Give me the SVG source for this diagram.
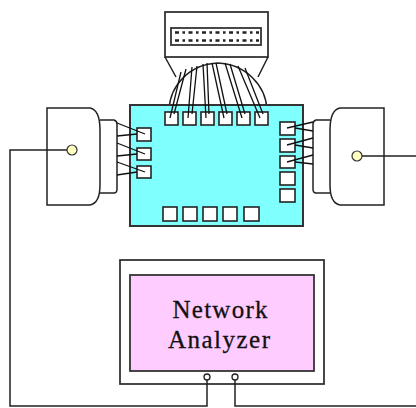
<svg xmlns="http://www.w3.org/2000/svg" width="416" height="408" viewBox="0 0 416 408">
  <style>
    .ln { fill: none; stroke: #222; stroke-width: 1.5; }
    .wire { fill: none; stroke: #111; stroke-width: 1.3; }
    .pin { fill: #fff; stroke: #222; stroke-width: 1.6; }
    .box { fill: #fff; stroke: #333; stroke-width: 1.8; }
    .label { font-family: "Liberation Serif", "Times New Roman", serif; font-size: 25px; fill: #111; stroke: #111; stroke-width: 0.3; text-anchor: middle; }
  </style>

  <!-- ribbon connector at the top -->
  <g id="ribbon-connector">
    <rect class="box" x="165" y="12" width="103" height="45"/>
    <rect class="box" x="171" y="28" width="90" height="17" stroke-width="1.4"/>
    <line x1="175" y1="32.5" x2="259" y2="32.5" stroke="#222" stroke-width="2.5" stroke-dasharray="4 3.5 2.5 3.5"/>
    <line x1="175" y1="40.5" x2="259" y2="40.5" stroke="#222" stroke-width="2.5" stroke-dasharray="4 3.5 2.5 3.5"/>
    <path class="ln" d="M165,57 L176,77 M268,57 L258,77"/>
    <path class="ln" d="M169,110 C170,85 190,64 218,63 C245,64 266,85 267,110" stroke-width="1.3"/>
  </g>

  <!-- test board -->
  <g id="board">
    <rect x="130" y="105" width="173" height="121" fill="#80ffff" stroke="#333" stroke-width="2"/>
    <!-- top pins -->
    <rect class="pin" x="165" y="112" width="13" height="13"/>
    <rect class="pin" x="183" y="112" width="13" height="13"/>
    <rect class="pin" x="201" y="112" width="13" height="13"/>
    <rect class="pin" x="219" y="112" width="13" height="13"/>
    <rect class="pin" x="237" y="112" width="13" height="13"/>
    <rect class="pin" x="255" y="112" width="13" height="13"/>
    <!-- left pins -->
    <rect class="pin" x="137" y="128" width="14" height="13"/>
    <rect class="pin" x="137" y="148" width="14" height="12"/>
    <rect class="pin" x="137" y="166" width="14" height="12"/>
    <!-- right pins -->
    <rect class="pin" x="280" y="122" width="15" height="13"/>
    <rect class="pin" x="280" y="139" width="15" height="13"/>
    <rect class="pin" x="280" y="156" width="15" height="12"/>
    <rect class="pin" x="280" y="172" width="15" height="13"/>
    <rect class="pin" x="280" y="189" width="15" height="13"/>
    <!-- bottom pins -->
    <rect class="pin" x="163" y="207" width="14" height="14"/>
    <rect class="pin" x="183" y="207" width="14" height="14"/>
    <rect class="pin" x="203" y="207" width="14" height="14"/>
    <rect class="pin" x="223" y="207" width="14" height="14"/>
    <rect class="pin" x="244" y="207" width="15" height="14"/>
  </g>

  <!-- left probe head -->
  <g id="left-probe">
    <path class="ln" d="M47,108 L90,108 Q100,110 100,130 L100,185 Q100,203 90,205 L47,205 Z" fill="#fff"/>
    <path class="ln" d="M100,120 L114,120 Q117,121 117,124 L117,189 Q117,193 114,193 L100,193"/>
    <circle cx="72" cy="150" r="5" fill="#ffffc0" stroke="#333" stroke-width="1.2"/>
  </g>

  <!-- right probe head -->
  <g id="right-probe">
    <path class="ln" d="M384,108 L340,108 Q330,110 330,130 L330,185 Q330,203 340,205 L384,205 Z" fill="#fff"/>
    <path class="ln" d="M330,120 L316,120 Q313,121 313,124 L313,189 Q313,193 316,193 L330,193"/>
    <circle cx="357" cy="156" r="5" fill="#ffffc0" stroke="#333" stroke-width="1.2"/>
  </g>

  <!-- network analyzer -->
  <g id="network-analyzer">
    <rect class="box" x="120" y="260" width="204" height="124"/>
    <rect x="130" y="275" width="184" height="96" fill="#ffccff" stroke="#333" stroke-width="1.8"/>
    <text class="label" x="220" y="318" textLength="95" lengthAdjust="spacing">Network</text>
    <text class="label" x="219" y="348" textLength="102" lengthAdjust="spacing">Analyzer</text>
    <circle cx="207" cy="377" r="3" fill="#fff" stroke="#222" stroke-width="1.3"/>
    <circle cx="235" cy="377" r="3" fill="#fff" stroke="#222" stroke-width="1.3"/>
  </g>

  <!-- connectors -->
  <g id="connectors">
    <!-- ribbon wires fanning down to the top pins -->
    <path class="wire" d="M181,72 L170,118 M186,69 L174,114
                          M192,67 L188,118 M197,66 L192,114
                          M203,64 L206,118 M207,63 L209,114
                          M212,63 L224,118 M216,63 L227,114
                          M225,63 L242,118 M230,64 L245,114
                          M238,66 L260,118 M245,68 L263,114"/>
    <!-- left probe wires -->
    <path class="wire" d="M117,123 L145,134 M117,136 L137,134
                          M117,143 L145,154 M117,156 L137,154
                          M117,162 L145,172 M117,175 L137,172"/>
    <!-- right probe wires -->
    <path class="wire" d="M313,122 L287,128 M313,131 L295,128
                          M313,138 L287,145 M313,148 L295,145
                          M313,155 L287,162 M313,164 L295,162"/>
    <!-- left measurement cable -->
    <path class="ln" d="M67,150 L10,150 L10,406 L207,406 L207,380"/>
    <!-- right measurement cable -->
    <path class="ln" d="M362,156 L416,156 M235,380 L235,406 L416,406"/>
  </g>
</svg>
